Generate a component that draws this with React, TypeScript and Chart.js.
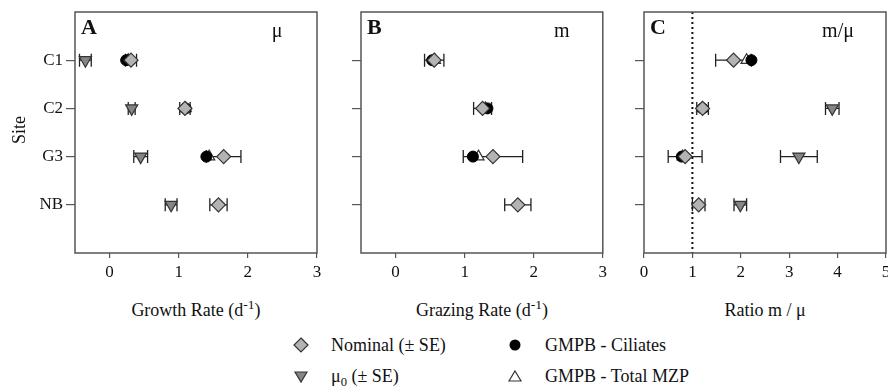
import React, { useEffect, useRef } from 'react';
import { Chart, registerables } from 'chart.js';
Chart.register(...registerables);

const FONT = '"Liberation Serif", "Times New Roman", Times, serif';

// ---------- data ----------
const sites = ['C1', 'C2', 'G3', 'NB'];
const sitePos = [1, 2, 3, 4];

const growthTicks = [0, 1, 2, 3];
const grazingTicks = [0, 1, 2, 3];
const ratioTicks = [0, 1, 2, 3, 4, 5];

// Panel A: growth rate (mu)
const growthNominal = [0.31, 1.09, 1.65, 1.575];
const growthNominalSE = [0.08, 0.075, 0.25, 0.125];
const growthMu0 = [-0.35, 0.32, 0.45, 0.89];
const growthMu0SE = [0.085, 0.05, 0.1, 0.085];
const growthCiliates = [0.24, 1.1, 1.4, null];
const growthTotal = [0.27, 1.1, 1.44, null];

// Panel B: grazing rate (m)
const grazingNominal = [0.56, 1.26, 1.41, 1.77];
const grazingNominalSE = [0.14, 0.13, 0.43, 0.19];
const grazingCiliates = [0.53, 1.33, 1.12, null];
const grazingTotal = [0.57, 1.3, 1.2, null];

// Panel C: ratio m / mu
const ratioNominal = [1.85, 1.21, 0.85, 1.13];
const ratioNominalSE = [0.37, 0.12, 0.35, 0.13];
const ratioMu0 = [null, 3.89, 3.2, 1.99];
const ratioMu0SE = [null, 0.14, 0.38, 0.13];
const ratioCiliates = [2.22, 1.21, 0.78, null];
const ratioTotal = [2.12, 1.2, 0.8, null];
const ratioRef = 1;

// ---------- helpers ----------
type Pt = { x: number; y: number; se?: number };
function pts(vals: (number | null)[], se?: (number | null)[]): Pt[] {
  const out: Pt[] = [];
  vals.forEach((v, i) => {
    if (v == null) return;
    const p: Pt = { x: v, y: sitePos[i] };
    if (se && se[i] != null) p.se = se[i] as number;
    out.push(p);
  });
  return out;
}

const styleNominal = {
  pointStyle: 'rectRot', pointRadius: 7, pointBackgroundColor: '#b3b3b3',
  pointBorderColor: '#333', pointBorderWidth: 1.2,
};
const styleMu0 = {
  pointStyle: 'triangle', pointRotation: 180, pointRadius: 7, pointBackgroundColor: '#858585',
  pointBorderColor: '#333', pointBorderWidth: 1.2,
};
const styleCiliates = {
  pointStyle: 'circle', pointRadius: 5.5, pointBackgroundColor: '#000',
  pointBorderColor: '#000', pointBorderWidth: 1,
};
const styleTotal = {
  pointStyle: 'triangle', pointRadius: 6.5, pointBackgroundColor: '#fff',
  pointBorderColor: '#333', pointBorderWidth: 1.2,
};

const errorBars = {
  id: 'errorBars',
  beforeDatasetsDraw(chart: any) {
    const { ctx } = chart;
    const x = chart.scales.x, y = chart.scales.y;
    ctx.save();
    ctx.strokeStyle = '#222';
    ctx.lineWidth = 1.3;
    chart.data.datasets.forEach((ds: any) => {
      ds.data.forEach((p: Pt) => {
        if (p.se == null) return;
        const x0 = x.getPixelForValue(p.x - p.se);
        const x1 = x.getPixelForValue(p.x + p.se);
        const yy = y.getPixelForValue(p.y);
        ctx.beginPath();
        ctx.moveTo(x0, yy); ctx.lineTo(x1, yy);
        ctx.moveTo(x0, yy - 6.5); ctx.lineTo(x0, yy + 6.5);
        ctx.moveTo(x1, yy - 6.5); ctx.lineTo(x1, yy + 6.5);
        ctx.stroke();
      });
    });
    ctx.restore();
  },
};

const refLine = {
  id: 'refLine',
  beforeDatasetsDraw(chart: any, _a: any, opts: any) {
    if (opts == null || opts.value == null) return;
    const { ctx, chartArea } = chart;
    const px = chart.scales.x.getPixelForValue(opts.value);
    ctx.save();
    ctx.strokeStyle = '#111';
    ctx.lineWidth = 2;
    ctx.setLineDash([2, 3]);
    ctx.beginPath();
    ctx.moveTo(px, chartArea.top);
    ctx.lineTo(px, chartArea.bottom);
    ctx.stroke();
    ctx.restore();
  },
};

const frame = {
  id: 'frame',
  afterDatasetsDraw(chart: any) {
    const { ctx, chartArea: a } = chart;
    ctx.save();
    ctx.strokeStyle = '#555';
    ctx.lineWidth = 1.5;
    ctx.strokeRect(a.left, a.top, a.right - a.left, a.bottom - a.top);
    ctx.restore();
  },
};

const panelLabel = {
  id: 'panelLabel',
  afterDatasetsDraw(chart: any, _a: any, opts: any) {
    const { ctx, chartArea: a } = chart;
    ctx.save();
    ctx.fillStyle = '#111';
    ctx.textBaseline = 'alphabetic';
    ctx.textAlign = 'left';
    ctx.font = `bold 22px ${FONT}`;
    ctx.fillText(opts.letter, a.left + 6, a.top + 22);
    ctx.textAlign = 'center';
    ctx.font = `20px ${FONT}`;
    ctx.fillText(opts.symbol, a.right - opts.symbolOffset, a.top + 25);
    ctx.restore();
  },
};

function makeConfig(p: {
  datasets: any[]; xMin: number; xMax: number; xTicks: number[];
  yWidth: number; showSites: boolean; padRight: number;
  letter: string; symbol: string; symbolOffset: number; ref?: number;
}) {
  return {
    type: 'scatter',
    data: { datasets: p.datasets },
    plugins: [errorBars, refLine, frame, panelLabel],
    options: {
      animation: false,
      responsive: false,
      events: [],
      layout: { padding: { left: 0, right: p.padRight, top: 12, bottom: 0 } },
      plugins: {
        legend: { display: false },
        tooltip: { enabled: false },
        refLine: { value: p.ref },
        panelLabel: { letter: p.letter, symbol: p.symbol, symbolOffset: p.symbolOffset },
      },
      scales: {
        x: {
          type: 'linear', min: p.xMin, max: p.xMax,
          afterBuildTicks: (s: any) => { s.ticks = p.xTicks.map((v) => ({ value: v })); },
          afterFit: (s: any) => { s.height = 37; s.paddingLeft = 0; s.paddingRight = 0; },
          grid: { display: true, drawOnChartArea: false, drawTicks: true, tickLength: 5, color: '#555', lineWidth: 1.2 },
          border: { display: false },
          ticks: { font: { family: FONT, size: 17 }, color: '#111', padding: 4, maxRotation: 0, autoSkip: false },
        },
        y: {
          type: 'linear', min: 0, max: 5, reverse: true,
          afterBuildTicks: (s: any) => { s.ticks = sitePos.map((v) => ({ value: v })); },
          afterFit: (s: any) => { s.width = p.yWidth; s.paddingTop = 0; s.paddingBottom = 0; },
          grid: { display: true, drawOnChartArea: false, drawTicks: true, tickLength: 9, color: '#555', lineWidth: 1.2 },
          border: { display: false },
          ticks: {
            font: { family: FONT, size: 17 }, color: '#111', padding: 3, autoSkip: false,
            callback: (v: number) => (p.showSites ? sites[sitePos.indexOf(v)] ?? '' : ''),
          },
        },
      },
    },
  };
}

function Panel(props: { left: number; width: number; height: number; config: () => any }) {
  const ref = useRef<HTMLCanvasElement>(null);
  useEffect(() => {
    const c = new Chart(ref.current as HTMLCanvasElement, props.config());
    return () => c.destroy();
  }, []);
  return (
    <canvas
      ref={ref}
      width={props.width}
      height={props.height}
      style={{ position: 'absolute', left: props.left, top: 0, width: props.width, height: props.height }}
    />
  );
}

const configA = () =>
  makeConfig({
    datasets: [
      { label: 'Nominal (± SE)', data: pts(growthNominal, growthNominalSE), ...styleNominal },
      { label: 'GMPB - Ciliates', data: pts(growthCiliates), ...styleCiliates },
      { label: 'GMPB - Total MZP', data: pts(growthTotal), ...styleTotal },
      { label: 'μ0 (± SE)', data: pts(growthMu0, growthMu0SE), ...styleMu0 },
    ],
    xMin: -0.5, xMax: 3, xTicks: growthTicks, yWidth: 75, showSites: true, padRight: 9,
    letter: 'A', symbol: 'μ', symbolOffset: 40,
  });

const configB = () =>
  makeConfig({
    datasets: [
      { label: 'Nominal (± SE)', data: pts(grazingNominal, grazingNominalSE), ...styleNominal },
      { label: 'GMPB - Ciliates', data: pts(grazingCiliates), ...styleCiliates },
      { label: 'GMPB - Total MZP', data: pts(grazingTotal), ...styleTotal },
    ],
    xMin: -0.5, xMax: 3, xTicks: grazingTicks, yWidth: 31, showSites: false, padRight: 8,
    letter: 'B', symbol: 'm', symbolOffset: 41,
  });

const configC = () =>
  makeConfig({
    datasets: [
      { label: 'Nominal (± SE)', data: pts(ratioNominal, ratioNominalSE), ...styleNominal },
      { label: 'GMPB - Ciliates', data: pts(ratioCiliates), ...styleCiliates },
      { label: 'GMPB - Total MZP', data: pts(ratioTotal), ...styleTotal },
      { label: 'μ0 (± SE)', data: pts(ratioMu0, ratioMu0SE), ...styleMu0 },
    ],
    xMin: 0, xMax: 5, xTicks: ratioTicks, yWidth: 30, showSites: false, padRight: 12,
    letter: 'C', symbol: 'm/μ', symbolOffset: 48, ref: ratioRef,
  });

const supStyle: React.CSSProperties = { fontSize: '0.75em', verticalAlign: 'baseline', position: 'relative', top: '-0.55em' };
const subStyle: React.CSSProperties = { fontSize: '0.7em', verticalAlign: 'baseline', position: 'relative', top: '0.3em' };

function AxisTitle(props: { cx: number; children: React.ReactNode }) {
  return (
    <div style={{ position: 'absolute', left: props.cx - 150, width: 300, top: 300, lineHeight: '20px', fontSize: 18, textAlign: 'center', whiteSpace: 'nowrap' }}>
      {props.children}
    </div>
  );
}

function Marker(props: { kind: string; cx: number; cy: number }) {
  const s = 16;
  let shape: React.ReactNode = null;
  if (props.kind === 'diamond') shape = <polygon points="8,1 15,8 8,15 1,8" fill="#b3b3b3" stroke="#333" strokeWidth={1.2} />;
  if (props.kind === 'down') shape = <polygon points="2,4 14,4 8,14" fill="#858585" stroke="#333" strokeWidth={1.2} />;
  if (props.kind === 'circle') shape = <circle cx={8} cy={8} r={5.5} fill="#000" />;
  if (props.kind === 'up') shape = <polygon points="8,3 14,13 2,13" fill="#fff" stroke="#333" strokeWidth={1.2} />;
  return (
    <svg width={s} height={s} style={{ position: 'absolute', left: props.cx - 8, top: props.cy - 8 }}>
      {shape}
    </svg>
  );
}

function LegendText(props: { x: number; cy: number; children: React.ReactNode }) {
  return (
    <div style={{ position: 'absolute', left: props.x, top: props.cy - 10, lineHeight: '20px', fontSize: 18, whiteSpace: 'nowrap' }}>
      {props.children}
    </div>
  );
}

export default function App() {
  return (
    <div style={{ position: 'absolute', left: 0, top: 0, width: 888, height: 389, overflow: 'hidden', background: '#fff', fontFamily: FONT, color: '#111' }}>
      <Panel left={0} width={326} height={290} config={configA} />
      <Panel left={330} width={281} height={290} config={configB} />
      <Panel left={614} width={284} height={290} config={configC} />

      <div style={{ position: 'absolute', left: 19, top: 130, fontSize: 18, lineHeight: '20px', transform: 'translate(-50%, -50%) rotate(-90deg)', whiteSpace: 'nowrap' }}>Site</div>

      <AxisTitle cx={196}>Growth Rate (d<span style={supStyle}>-1</span>)</AxisTitle>
      <AxisTitle cx={482}>Grazing Rate (d<span style={supStyle}>-1</span>)</AxisTitle>
      <AxisTitle cx={765}>Ratio m / μ</AxisTitle>

      <Marker kind="diamond" cx={301} cy={345} />
      <LegendText x={331} cy={345}>Nominal (± SE)</LegendText>
      <Marker kind="down" cx={301} cy={376} />
      <LegendText x={331} cy={376}>μ<span style={subStyle}>0</span> (± SE)</LegendText>
      <Marker kind="circle" cx={515} cy={345} />
      <LegendText x={545} cy={345}>GMPB - Ciliates</LegendText>
      <Marker kind="up" cx={515} cy={376} />
      <LegendText x={545} cy={376}>GMPB - Total MZP</LegendText>
    </div>
  );
}
